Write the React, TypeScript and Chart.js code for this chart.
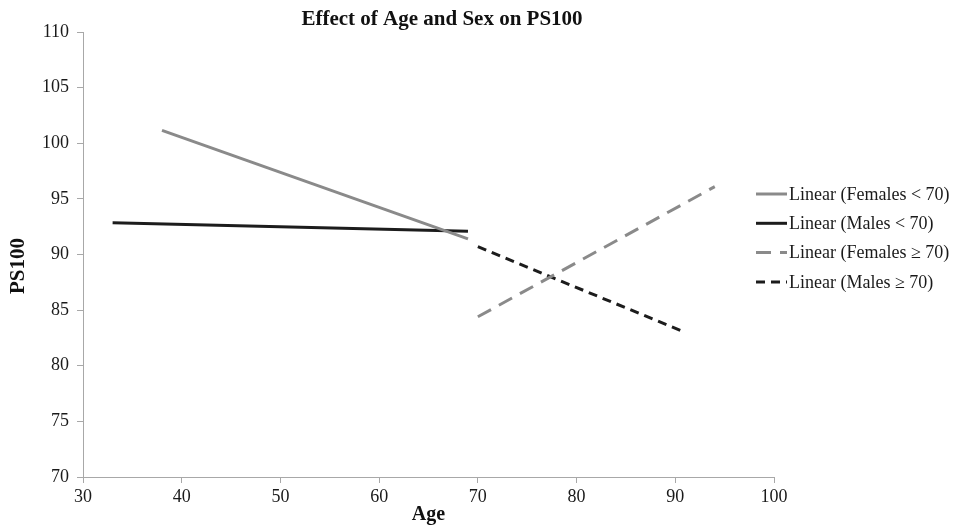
import React, { useEffect, useRef } from "react";
import { Chart, registerables } from "chart.js";

Chart.register(...registerables);

const chartTitle = "Effect of Age and Sex on PS100";
const xAxisTitle = "Age";
const yAxisTitle = "PS100";

const seriesLabels = [
  "Linear (Females < 70)",
  "Linear (Males < 70)",
  "Linear (Females \u2265 70)",
  "Linear (Males \u2265 70)",
];

const femalesUnder70Age = [38, 69];
const femalesUnder70PS = [101.15, 91.4];
const malesUnder70Age = [33, 69];
const malesUnder70PS = [92.85, 92.1];
const femalesOver70Age = [70, 94];
const femalesOver70PS = [84.4, 96.1];
const malesOver70Age = [70, 91];
const malesOver70PS = [90.7, 83.0];

const xMin = 30;
const xMax = 100;
const xStep = 10;
const yMin = 70;
const yMax = 110;
const yStep = 5;

const GREY = "#8a8a8a";
const DARK = "#1c1c1c";
const FONT = "'Liberation Serif', 'Times New Roman', serif";

function pts(xs: number[], ys: number[]) {
  return xs.map((x, i) => ({ x, y: ys[i] }));
}

const overlayPlugin = {
  id: "overlay",
  afterDraw(chart: any) {
    const ctx = chart.ctx;
    ctx.save();
    // title
    ctx.fillStyle = "#111";
    ctx.font = `bold 21px ${FONT}`;
    ctx.textAlign = "center";
    ctx.textBaseline = "middle";
    ctx.fillText(chartTitle, 442, 20);
    // y axis title
    ctx.save();
    ctx.translate(18.5, 266);
    ctx.rotate(-Math.PI / 2);
    ctx.font = `bold 21px ${FONT}`;
    ctx.fillText(yAxisTitle, 0, 0);
    ctx.restore();
    // legend
    const ds = chart.data.datasets;
    ctx.font = `18px ${FONT}`;
    ctx.textAlign = "left";
    for (let i = 0; i < ds.length; i++) {
      const y = 194 + i * 29.3;
      ctx.beginPath();
      ctx.strokeStyle = ds[i].borderColor;
      ctx.lineWidth = ds[i].borderWidth;
      ctx.setLineDash(ds[i].borderDash || []);
      ctx.moveTo(756, y);
      ctx.lineTo(787, y);
      ctx.stroke();
      ctx.setLineDash([]);
      ctx.fillStyle = "#1a1a1a";
      ctx.fillText(ds[i].label, 789, y + 1);
    }
    ctx.restore();
  },
};

export default function App() {
  const ref = useRef<HTMLCanvasElement | null>(null);
  useEffect(() => {
    if (!ref.current) return;
    const chart = new Chart(ref.current, {
      type: "scatter",
      data: {
        datasets: [
          {
            label: seriesLabels[0],
            data: pts(femalesUnder70Age, femalesUnder70PS),
            showLine: true,
            borderColor: GREY,
            backgroundColor: GREY,
            borderWidth: 3,
            pointRadius: 0,
          },
          {
            label: seriesLabels[1],
            data: pts(malesUnder70Age, malesUnder70PS),
            showLine: true,
            borderColor: DARK,
            backgroundColor: DARK,
            borderWidth: 3,
            pointRadius: 0,
          },
          {
            label: seriesLabels[2],
            data: pts(femalesOver70Age, femalesOver70PS),
            showLine: true,
            borderColor: GREY,
            backgroundColor: GREY,
            borderWidth: 3,
            borderDash: [15, 9],
            pointRadius: 0,
          },
          {
            label: seriesLabels[3],
            data: pts(malesOver70Age, malesOver70PS),
            showLine: true,
            borderColor: DARK,
            backgroundColor: DARK,
            borderWidth: 3,
            borderDash: [9, 6],
            pointRadius: 0,
          },
        ],
      },
      options: {
        responsive: false,
        animation: false,
        layout: { padding: { top: 32, right: 182, left: 0, bottom: 0 } },
        plugins: {
          legend: { display: false },
          title: { display: false },
          tooltip: { enabled: false },
        },
        scales: {
          x: {
            type: "linear",
            min: xMin,
            max: xMax,
            afterFit: (s: any) => {
              s.height = 50;
            },
            ticks: {
              stepSize: xStep,
              color: "#1a1a1a",
              font: { family: FONT, size: 18 },
              padding: 3,
              maxRotation: 0,
            },
            grid: {
              display: true,
              drawOnChartArea: false,
              drawTicks: true,
              tickLength: 6,
              color: "#a8a8a8",
            },
            border: { display: true, color: "#a8a8a8", width: 1 },
            title: {
              display: true,
              text: xAxisTitle,
              color: "#111",
              font: { family: FONT, size: 20, weight: "bold" },
              padding: { top: 0, bottom: 0 },
            },
          },
          y: {
            type: "linear",
            min: yMin,
            max: yMax,
            afterFit: (s: any) => {
              s.width = 83;
            },
            ticks: {
              stepSize: yStep,
              color: "#1a1a1a",
              font: { family: FONT, size: 18 },
              padding: 8,
            },
            grid: {
              display: true,
              drawOnChartArea: false,
              drawTicks: true,
              tickLength: 6,
              color: "#a8a8a8",
            },
            border: { display: true, color: "#a8a8a8", width: 1 },
            title: { display: false, text: yAxisTitle },
          },
        },
      },
      plugins: [overlayPlugin],
    });
    return () => chart.destroy();
  }, []);
  return (
    <div style={{ position: "fixed", left: 0, top: 0, width: 956, height: 527, background: "#fff" }}>
      <canvas ref={ref} width={956} height={527} />
    </div>
  );
}
